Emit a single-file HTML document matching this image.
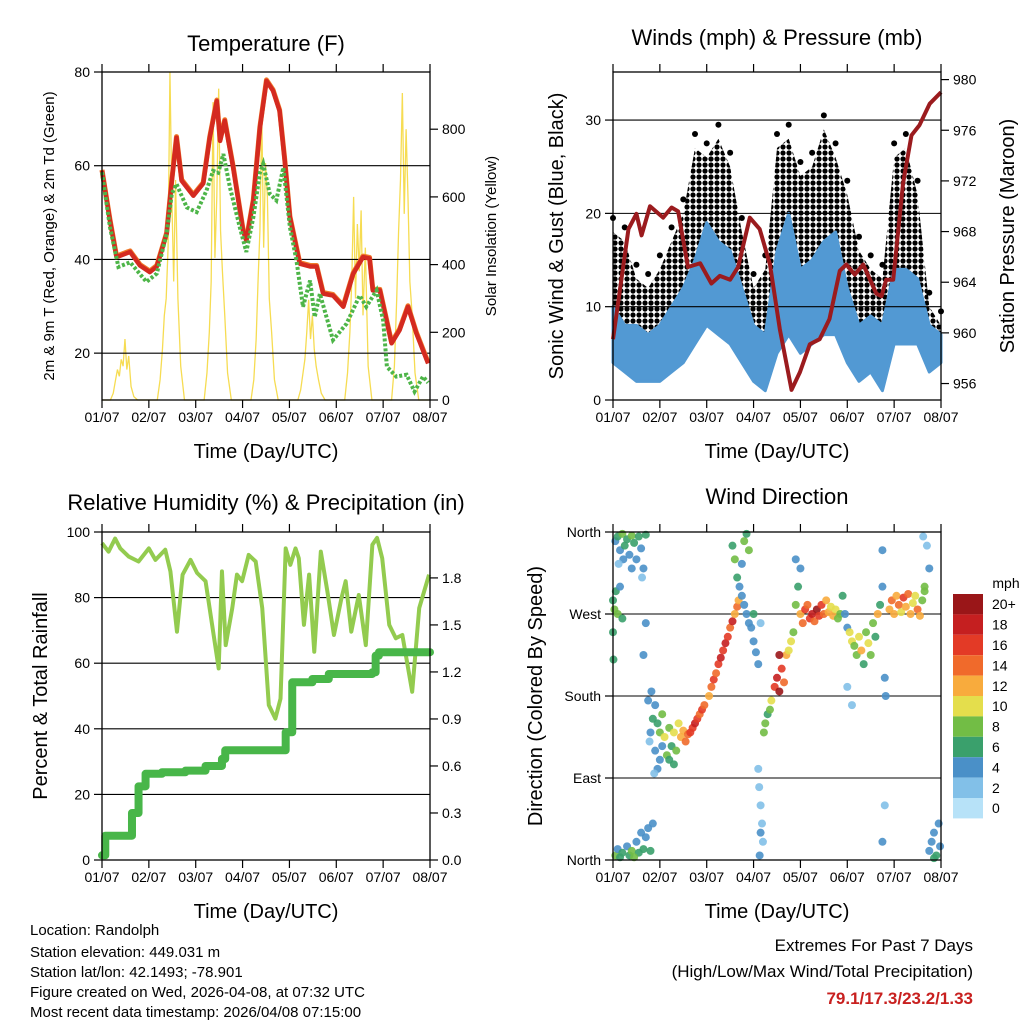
<!DOCTYPE html>
<html><head><meta charset="utf-8">
<style>
html,body{margin:0;padding:0;background:#fff;}
svg{display:block;font-family:"Liberation Sans",sans-serif;}
</style></head>
<body>
<svg id="root" width="1024" height="1024" viewBox="0 0 1024 1024">
<defs>
<pattern id="dots" width="6" height="6" patternUnits="userSpaceOnUse">
<circle cx="3" cy="3" r="2.6" fill="#000"/>
</pattern>
</defs>
<g font-size="15" fill="#000">
<text x="30" y="935">Location: Randolph</text>
<text x="30" y="957">Station elevation: 449.031 m</text>
<text x="30" y="977">Station lat/lon: 42.1493; -78.901</text>
<text x="30" y="997">Figure created on Wed, 2026-04-08, at 07:32 UTC</text>
<text x="30" y="1017">Most recent data timestamp: 2026/04/08 07:15:00</text>
</g>
<g text-anchor="end" font-size="17">
<text x="973" y="951">Extremes For Past 7 Days</text>
<text x="973" y="977">(High/Low/Max Wind/Total Precipitation)</text>
<text x="973" y="1004" font-weight="bold" fill="#c8201f">79.1/17.3/23.2/1.33</text>
</g>
</svg>
<script>
// ---------- data ----------
const dayLabels = ["01/07","02/07","03/07","04/07","05/07","06/07","07/07","08/07"];
// Temperature (F)
const tempT = [0,0.17,0.31,0.6,0.81,1.02,1.17,1.38,1.49,1.59,1.70,1.95,2.16,2.30,2.45,2.52,2.62,2.80,3.01,3.08,3.23,3.37,3.51,3.65,3.79,3.90,4.01,4.22,4.44,4.58,4.72,4.93,5.15,5.36,5.57,5.71,5.78,5.93,6.18,6.35,6.53,6.71,6.96];
const tempV = [58.9,48.3,40.5,41.6,38.7,37.3,38.5,45.5,56.8,66.0,56.8,53.6,56.2,66.0,73.8,65.3,69.6,59.6,46.2,44.0,52.6,68.1,78.1,76.0,71.7,61.1,49.0,39.1,38.5,38.5,32.7,32.3,29.9,36.9,40.5,40.2,33.4,33.4,22.1,24.9,29.9,24.2,17.8];
const dewT = [0,0.17,0.35,0.6,0.95,1.17,1.38,1.49,1.59,1.81,2.02,2.23,2.37,2.48,2.59,2.73,2.94,3.08,3.23,3.37,3.44,3.58,3.72,3.87,4.01,4.15,4.29,4.44,4.54,4.65,4.93,5.22,5.5,5.64,5.86,6.0,6.08,6.28,6.5,6.67,6.85,6.96];
const dewV = [58.6,46.9,38.4,39.4,35.2,37.0,45.5,54.0,56.1,51.1,50.1,54.7,58.9,58.5,62.5,55.4,46.9,41.6,49.0,58.5,60.4,54.0,52.6,59.6,46.9,39.8,29.9,35.5,27.7,32.7,22.8,26.3,32.3,29.9,33.4,27.0,17.1,15.0,15.4,11.8,15.0,13.7];
// Solar insolation: hour offsets within each day, values per day
const solarOffsets = [0.18,0.24,0.29,0.33,0.37,0.41,0.45,0.49,0.53,0.57,0.62,0.68,0.76];
const solarDay0 = [0,20,60,90,70,120,100,180,90,130,40,10,0];
const solarDay1 = [0,60,150,250,300,450,970,600,350,650,300,100,0];
const solarDay2 = [0,80,200,350,880,420,600,920,500,380,250,80,0];
const solarDay3 = [0,60,180,350,500,840,450,700,600,300,200,60,0];
const solarDay4 = [0,30,80,120,200,296,180,250,150,100,60,20,0];
const solarDay5 = [0,80,200,350,600,300,520,380,560,250,450,100,0];
const solarDay6 = [0,100,300,500,650,907,550,800,600,350,250,80,0];
// Winds (mph)
const windT = [0,0.25,0.5,0.75,1,1.25,1.5,1.75,2,2.25,2.5,2.75,3,3.25,3.5,3.75,4,4.25,4.5,4.75,5,5.25,5.5,5.75,6,6.25,6.5,6.75,7];
const gustHi = [18,17,13,12,14,17,20,27,26,28,25,18,12,14,27,28,24,25,29,26,22,16,14,13,26,27,22,10,8];
const gustLo = [8,7,7,6,7,7,9,11,12,11,10,7,4,3,8,11,9,10,12,10,8,4,5,4,9,10,9,6,5];
const windHi = [10,8,8,7,8,10,12,15,19,17,16,12,8,7,16,20,14,15,17,18,12,8,9,8,14,14,13,8,7];
const windLo = [4,3,2,2,2,3,4,6,8,7,6,4,2,1,5,7,5,6,7,7,4,2,3,1,6,6,6,3,4];
// Pressure (mb)
const presT = [0,0.33,0.5,0.61,0.79,1.07,1.25,1.39,1.6,1.86,2.1,2.28,2.5,2.67,2.92,3.13,3.35,3.56,3.81,3.99,4.2,4.41,4.62,4.84,4.98,5.16,5.34,5.62,5.73,5.83,5.98,6.19,6.37,6.54,6.76,7.0];
const presV = [959.5,968.2,969.4,967.7,970.0,969.1,969.9,969.6,965.2,965.5,963.9,964.5,964.2,965.2,969.1,968.2,965.4,960.3,955.5,956.9,959.1,959.5,961.1,964.9,965.4,964.6,965.4,963.1,962.9,964.2,964.2,971.8,975.6,976.4,978.1,979.0];
// Relative humidity (%)
const rhT = [0,0.14,0.28,0.39,0.57,0.78,1.0,1.14,1.35,1.46,1.60,1.72,1.89,2.03,2.21,2.35,2.49,2.56,2.64,2.78,2.88,2.99,3.13,3.28,3.42,3.56,3.70,3.81,3.92,4.02,4.13,4.2,4.31,4.42,4.53,4.67,4.81,4.95,5.11,5.2,5.32,5.48,5.63,5.77,5.87,5.98,6.13,6.27,6.41,6.62,6.77,6.98];
const rhV = [96.6,94,98,95,92.5,91,95,91.5,94.6,88,69.6,87,91.5,87.5,85,71.7,58.4,88,65.5,76.8,87,85,93,91,76.8,47.2,43.1,49.2,95,90,95,92,71.7,87,63.5,94,81.9,68.6,79.8,85,69.6,80.8,65.5,96.1,98.2,92,71.7,67.6,68.6,51.3,76.8,87];
// Cumulative rainfall (in)
const rainT = [0,0.07,0.43,0.64,0.78,0.93,1.28,1.78,2.21,2.56,2.63,3.85,3.92,4.06,4.49,4.84,5.77,5.84,5.91,7.0];
const rainV = [0.03,0.155,0.155,0.30,0.47,0.55,0.56,0.57,0.60,0.645,0.70,0.70,0.815,1.134,1.155,1.187,1.198,1.304,1.326,1.326];
// Wind direction: time (day), direction (deg), speed (mph)
const dirT = [0.05,0.1,0.15,0.2,0.25,0.3,0.35,0.4,0.45,0.5,0.55,0.6,0.65,0.7,0.22,0.12,0.4,0.62,
0.05,0.1,0.15,0.2,0.3,0.35,0.4,0.5,0.55,0.6,0.65,0.7,0.75,0.8,0.85,0.45,
0.0,0.03,0.06,0.1,0.15,0.2,0.0,0.01,
0.7,0.65,0.75,0.8,0.85,0.9,0.95,0.88,1.0,0.82,0.9,0.78,
0.95,1.0,1.05,1.1,1.15,1.2,1.25,1.3,1.35,1.4,1.45,1.5,1.55,1.6,1.65,1.7,1.75,1.8,1.85,1.9,1.95,1.2,1.3,1.05,
2.05,2.1,2.15,2.2,2.25,2.3,2.35,2.4,2.45,2.5,2.55,2.6,2.65,2.68,
2.55,2.6,2.65,2.7,2.75,2.8,2.85,2.9,2.75,2.8,2.85,2.9,
2.95,3.0,3.05,3.1,3.0,3.15,
3.1,3.12,3.15,3.18,3.2,3.13,3.15,
3.22,3.25,3.3,3.35,3.38,
3.45,3.5,3.55,3.6,3.65,3.7,3.75,3.55,3.8,3.85,3.9,3.95,3.9,4.0,
4.0,4.05,4.1,4.15,4.2,4.25,4.3,4.35,4.4,4.45,4.5,4.55,4.6,4.65,4.7,4.75,4.8,4.85,4.9,
4.95,5.0,5.05,5.1,5.15,5.2,5.25,5.3,5.35,5.4,5.45,5.5,5.55,5.6,5.65,5.7,5.1,5.0,5.75,5.75,5.8,5.82,5.8,5.75,
5.9,5.95,6.0,6.05,6.1,6.15,6.2,6.25,6.3,6.35,6.4,6.45,6.5,6.55,6.6,6.65,
6.75,6.8,6.85,6.9,6.95,6.98,6.85,6.7,6.75,6.62,6.65];
const dirV = [350,355,340,358,345,352,335,356,348,330,355,342,320,357,330,325,320,310,
5,12,3,8,15,5,10,20,8,30,12,25,35,10,40,3,
285,275,295,270,300,265,250,220,
260,225,175,140,155,120,100,95,110,185,170,130,
150,140,160,135,115,145,125,140,120,150,135,142,130,138,140,145,150,155,160,165,170,110,105,125,
180,190,198,205,215,222,230,238,245,255,262,270,278,285,
345,330,310,300,325,350,358,340,290,280,270,260,
255,240,228,215,270,260,
100,80,60,40,20,5,30,
140,150,160,165,175,
190,200,185,210,195,225,230,225,240,250,280,300,330,320,
270,260,275,280,265,270,262,275,268,280,270,285,272,278,268,275,265,270,290,
270,255,250,240,235,225,245,230,215,250,238,225,260,245,270,280,170,190,300,340,200,180,60,20,
275,285,270,290,280,272,288,278,292,270,282,290,275,268,285,295,
10,20,30,5,40,15,2,345,320,355,300];
const dirS = [4,6,3,7,5,6,4,7,5,3,6,4,3,5,3,2,4,2,
7,4,6,5,4,6,7,4,6,3,5,4,4,5,3,7,
6,7,5,7,4,6,5,6,
4,3,3,4,5,4,3,2,4,3,4,2,
6,8,7,9,7,8,6,10,7,9,11,12,13,14,15,16,17,15,14,16,13,5,6,4,
12,13,16,14,15,17,16,18,16,14,17,12,13,11,
6,7,5,4,4,7,6,8,3,4,3,4,
4,3,4,3,5,2,
1,2,1,2,1,3,4,
7,8,6,8,9,
15,17,19,16,14,12,10,20,9,8,7,6,4,3,
12,13,15,14,16,17,14,19,16,15,13,12,11,10,12,9,8,7,6,
4,3,10,9,8,7,10,11,6,8,10,7,8,6,12,5,2,2,4,4,4,4,1,3,
12,13,11,12,14,10,15,11,13,12,9,10,13,12,8,7,
4,3,4,5,3,4,6,1,3,2,8];
const speedLevels = ["0","2","4","6","8","10","12","14","16","18","20+"];

// ---------- helpers ----------
const NS = "http://www.w3.org/2000/svg";
const root = document.getElementById("root");
function mk(tag, attrs, parent){
  const e = document.createElementNS(NS, tag);
  for (const k in attrs) e.setAttribute(k, attrs[k]);
  (parent||root).appendChild(e);
  return e;
}
function linScale(d0,d1,r0,r1){ return v => r0 + (v-d0)/(d1-d0)*(r1-r0); }
function txt(parent, x, y, s, size, anchor, extra){
  const t = mk("text", Object.assign({x:x,y:y,"font-size":size,"text-anchor":anchor||"middle"}, extra||{}), parent);
  t.textContent = s;
  return t;
}
const speedColors = ["#b7e2f8","#82c0e8","#4a90c8","#3aa06c","#72bd45","#e4de4c","#f8ab3d","#f06a2b","#e33a26","#c51f20","#9a1618"];
function speedColor(s){ let i = Math.min(10, Math.max(0, Math.round(s/2))); return speedColors[i]; }

function frame(g, L, T, R, B, xs){
  for (let i=0;i<dayLabels.length;i++){
    const x = xs(i);
    const tb = mk("line",{x1:x,x2:x,y1:B,y2:B+8,stroke:"#000","stroke-width":1.2},g);
    
    
    mk("line",{x1:x,x2:x,y1:T,y2:T-8,stroke:"#000","stroke-width":1.2},g);
    const lab = txt(g, x, B+22, dayLabels[i], 14);
    
    
  }
  const xt = txt(g, (L+R)/2, B+58, "Time (Day/UTC)", 20);
  
  
}
function box(g,L,T,R,B){
  const r = mk("rect",{x:L,y:T,width:R-L,height:B-T,fill:"none",stroke:"#000","stroke-width":1.3},g);
  
  
}
function yTicks(g, vals, ys, x, side, labels, len){
  vals.forEach((v,i)=>{
    const y = ys(v);
    mk("line",{x1:x,x2:x+(side<0?-len:len),y1:y,y2:y,stroke:"#000","stroke-width":1.2},g);
    if (labels){
      const t = txt(g, x+(side<0?-12:12), y+5, labels[i], 14, side<0?"end":"start");
      
      
    }
  });
}
function grid(g, vals, ys, L, R){
  vals.forEach(v=>{
    const l = mk("line",{x1:L,x2:R,y1:ys(v),y2:ys(v),stroke:"#000","stroke-width":1.1},g);
    
    
  });
}
function pathFrom(ts, vs, xs, ys, step){
  let d = "";
  for (let i=0;i<ts.length;i++){
    if (i===0) d += "M"+xs(ts[i])+","+ys(vs[i]);
    else if (step) d += "L"+xs(ts[i])+","+ys(vs[i-1])+"L"+xs(ts[i])+","+ys(vs[i]);
    else d += "L"+xs(ts[i])+","+ys(vs[i]);
  }
  return d;
}
function band(ts, hi, lo, xs, ys){
  let d = "";
  for (let i=0;i<ts.length;i++) d += (i?"L":"M")+xs(ts[i])+","+ys(hi[i]);
  for (let i=ts.length-1;i>=0;i--) d += "L"+xs(ts[i])+","+ys(lo[i]);
  return d+"Z";
}
function rotTitle(g, x, y, s, size, name){
  const t = txt(g, x, y, s, size, "middle", {transform:"rotate(-90 "+x+" "+y+")"});
  
  
}

// ---------- Panel 1: Temperature ----------
(function(){
  const L=102,R=430,T=72,B=400;
  const g = mk("g",{});  
  const xs = linScale(0,7,L,R), ys = linScale(10,80,B,T), ss = linScale(0,969,B,T);
  const tt = txt(g,266,51,"Temperature (F)",22);  
  const solarDays=[solarDay0,solarDay1,solarDay2,solarDay3,solarDay4,solarDay5,solarDay6];
  let st=[0], sv=[0];
  solarDays.forEach((arr,d)=>{ arr.forEach((v,i)=>{ st.push(d+solarOffsets[i]); sv.push(v); }); });
  st.push(7); sv.push(0);
  const sp = mk("path",{d:pathFrom(st,sv,xs,ss),fill:"none",stroke:"#f6dc52","stroke-width":1.3},g);
   
  grid(g,[20,40,60],ys,L,R);
  const op = mk("path",{d:pathFrom(tempT,tempV,xs,v=>ys(v)-1),fill:"none",stroke:"#f07b2a","stroke-width":5,"stroke-linejoin":"round"},g);
   
  const rp = mk("path",{d:pathFrom(tempT,tempV,xs,ys),fill:"none",stroke:"#d42a20","stroke-width":4.5,"stroke-linejoin":"round"},g);
   
  const gp = mk("path",{d:pathFrom(dewT,dewV,xs,ys),fill:"none",stroke:"#4db548","stroke-width":4,"stroke-dasharray":"3 2"},g);
   
  box(g,L,T,R,B);
  frame(g,L,T,R,B,i=>xs(i));
  yTicks(g,[20,40,60,80],ys,L,-1,["20","40","60","80"],8);
  yTicks(g,[0,200,400,600,800],ss,R,1,["0","200","400","600","800"],8);
  rotTitle(g,54,236,"2m & 9m T (Red, Orange) & 2m Td (Green)",15,"left-axis-title");
  rotTitle(g,496,236,"Solar Insolation (Yellow)",15,"right-axis-title");
})();

// ---------- Panel 2: Winds ----------
(function(){
  const L=613,R=941,T=72,B=400;
  const g = mk("g",{});  
  const xs = linScale(0,7,L,R), ys = linScale(0,35.15,B,T), ps = linScale(954.7,980.6,B,T);
  const tt = txt(g,777,45,"Winds (mph) & Pressure (mb)",22);  
  const gb = mk("path",{d:band(windT,gustHi,gustLo,xs,ys),fill:"url(#dots)",stroke:"none"},g);
   
  windT.forEach((t,i)=>{
    const c = mk("circle",{cx:xs(t),cy:ys(gustHi[i]+1.5),r:3,fill:"#000"},g);
     
  });
  const wb = mk("path",{d:band(windT,windHi,windLo,xs,ys),fill:"#5299d3",stroke:"#5299d3","stroke-width":3,"stroke-linejoin":"round"},g);
   
  grid(g,[10,20,30],ys,L,R);
  const pp = mk("path",{d:pathFrom(presT,presV,xs,ps),fill:"none",stroke:"#9b1b1e","stroke-width":4,"stroke-linejoin":"round"},g);
   
  box(g,L,T,R,B);
  frame(g,L,T,R,B,i=>xs(i));
  yTicks(g,[0,10,20,30],ys,L,-1,["0","10","20","30"],8);
  yTicks(g,[956,960,964,968,972,976,980],ps,R,1,["956","960","964","968","972","976","980"],8);
  rotTitle(g,563,236,"Sonic Wind & Gust (Blue, Black)",20,"left-axis-title");
  rotTitle(g,1014,236,"Station Pressure (Maroon)",20,"right-axis-title");
})();

// ---------- Panel 3: RH & Precip ----------
(function(){
  const L=102,R=430,T=532,B=860;
  const g = mk("g",{});  
  const xs = linScale(0,7,L,R), ys = linScale(0,100,B,T), rs = linScale(0,2.093,B,T);
  const tt = txt(g,266,510,"Relative Humidity (%) & Precipitation (in)",22);  
  grid(g,[20,40,60,80],ys,L,R);
  const hp = mk("path",{d:pathFrom(rhT,rhV,xs,ys),fill:"none",stroke:"#93cb4f","stroke-width":4,"stroke-linejoin":"round"},g);
   
  const rp = mk("path",{d:pathFrom(rainT,rainV,xs,rs,true),fill:"none",stroke:"#48b649","stroke-width":8,"stroke-linejoin":"round","stroke-linecap":"round"},g);
   
  box(g,L,T,R,B);
  frame(g,L,T,R,B,i=>xs(i));
  yTicks(g,[0,20,40,60,80,100],ys,L,-1,["0","20","40","60","80","100"],8);
  yTicks(g,[0,0.3,0.6,0.9,1.2,1.5,1.8],rs,R,1,["0.0","0.3","0.6","0.9","1.2","1.5","1.8"],8);
  rotTitle(g,47,696,"Percent & Total Rainfall",20,"left-axis-title");
})();

// ---------- Panel 4: Wind Direction ----------
(function(){
  const L=613,R=941,T=532,B=860;
  const g = mk("g",{});  
  const xs = linScale(0,7,L,R), ys = linScale(0,360,B,T);
  const tt = txt(g,777,504,"Wind Direction",22);  
  grid(g,[90,180,270],ys,L,R);
  dirT.forEach((t,i)=>{
    const c = mk("circle",{cx:xs(t),cy:ys(dirV[i]),r:4,fill:speedColor(dirS[i]),"fill-opacity":0.9},g);
     
  });
  box(g,L,T,R,B);
  frame(g,L,T,R,B,i=>xs(i));
  yTicks(g,[0,90,180,270,360],ys,L,-1,["North","East","South","West","North"],8);
  rotTitle(g,542,696,"Direction (Colored By Speed)",20,"left-axis-title");
  const cb = mk("g",{},g);  
  const mph = txt(cb,1006,588,"mph",14);  
  const h = 20.4, top = 594;
  for (let i=0;i<speedLevels.length;i++){
    const k = speedLevels.length-1-i;
    const r = mk("rect",{x:953,y:top+i*h,width:30,height:h,fill:speedColors[k]},cb);
     
    const l = txt(cb,992,top+i*h+h/2+5,speedLevels[k],14,"start");
     
  }
})();
</script>
</body></html>
